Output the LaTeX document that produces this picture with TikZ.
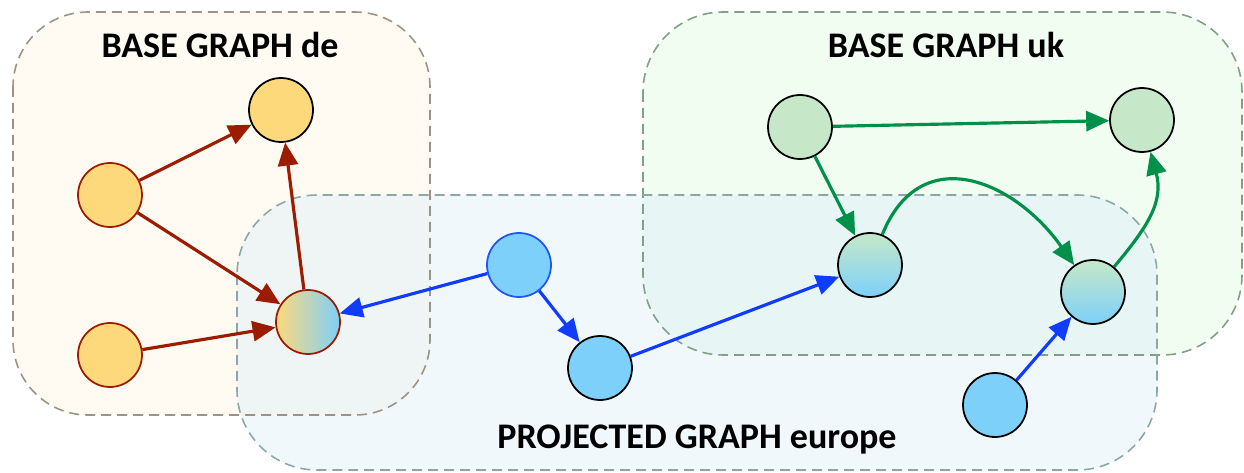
\documentclass[tikz,border=0pt]{standalone}
\usepackage{fontspec}
\setmainfont{Carlito}
\usetikzlibrary{arrows.meta,shapes.geometric}
\definecolor{yel}{HTML}{FDD97C}
\definecolor{dred}{HTML}{9B1C00}
\definecolor{lblue}{HTML}{7DD0FA}
\definecolor{ablue}{HTML}{0F3CFF}
\definecolor{nblue}{HTML}{1F55F0}
\definecolor{lgreen}{HTML}{C6E8C8}
\definecolor{agreen}{HTML}{00904A}
\definecolor{deFill}{HTML}{FFFAF2}
\definecolor{deLine}{HTML}{A09282}
\definecolor{ukFill}{HTML}{F1FDF1}
\definecolor{ukLine}{HTML}{80A088}
\definecolor{prFill}{HTML}{DDEFF8}
\definecolor{prLine}{HTML}{8AA8AA}
\tikzset{
  gnode/.style={circle, minimum size=1.28cm, inner sep=0pt, line width=1pt},
  region/.style={dashed, dash pattern=on 0.2cm off 0.12cm, line width=0.9pt},
  edge/.style={line width=1.8pt, -{Triangle[length=0.46cm,width=0.4cm]}},
  title/.style={font=\bfseries\fontsize{20.5}{24}\selectfont}
}
\begin{document}
\begin{tikzpicture}[x=0.02cm,y=0.02cm]
\useasboundingbox (0,0) rectangle (1244,-473);
% region fills
\fill[deFill, rounded corners=1.5cm] (13,-12) rectangle (430,-415);
\fill[ukFill, rounded corners=1.6cm] (643,-12) rectangle (1242,-355);
\fill[prFill, fill opacity=0.45, rounded corners=1.6cm] (237,-195) rectangle (1157,-470);
% region borders
\draw[region, deLine, rounded corners=1.5cm] (13,-12) rectangle (430,-415);
\draw[region, ukLine, rounded corners=1.6cm] (643,-12) rectangle (1242,-355);
\draw[region, prLine, rounded corners=1.6cm] (237,-195) rectangle (1157,-470);
% titles
\node[title] (tde) at (220,-45) {BASE GRAPH de};
\node[title] (tuk) at (946,-45) {BASE GRAPH uk};
\node[title] (tpr) at (697,-440) {PROJECTED GRAPH europe};
% nodes
\node[gnode, draw=black, fill=yel] (d1) at (281,-110) {};
\node[gnode, draw=dred, fill=yel] (d2) at (110,-195) {};
\node[gnode, draw=dred, fill=yel] (d3) at (110,-355) {};
\node[gnode, draw=dred, left color=yel, right color=lblue] (dg) at (308,-322) {};
\node[gnode, draw=nblue, fill=lblue] (b1) at (519,-265) {};
\node[gnode, draw=black, fill=lblue] (b2) at (600,-368) {};
\node[gnode, draw=black, fill=lblue] (b3) at (995,-405) {};
\node[gnode, draw=black, fill=lgreen] (g1) at (800,-127) {};
\node[gnode, draw=black, fill=lgreen] (g2) at (1142,-120) {};
\node[gnode, draw=black, top color=lgreen, bottom color=lblue] (u1) at (870,-265) {};
\node[gnode, draw=black, top color=lgreen, bottom color=lblue] (u2) at (1093,-292) {};
% edges de
\draw[edge, dred] (d2) -- (d1);
\draw[edge, dred] (d2) -- (dg);
\draw[edge, dred] (d3) -- (dg);
\draw[edge, dred] (dg) -- (d1);
% edges europe
\draw[edge, ablue] (b1) -- (dg);
\draw[edge, ablue] (b1) -- (b2);
\draw[edge, ablue] (b2) -- (u1);
\draw[edge, ablue] (b3) -- (u2);
% edges uk
\draw[edge, agreen] (g1) -- (g2);
\draw[edge, agreen] (g1) -- (u1);
\draw[edge, agreen] (u1) to[out=68, in=125, looseness=1.35] (u2);
\draw[edge, agreen] (u2) to[out=50, in=-75, looseness=1.1] (g2);
\end{tikzpicture}
\end{document}
